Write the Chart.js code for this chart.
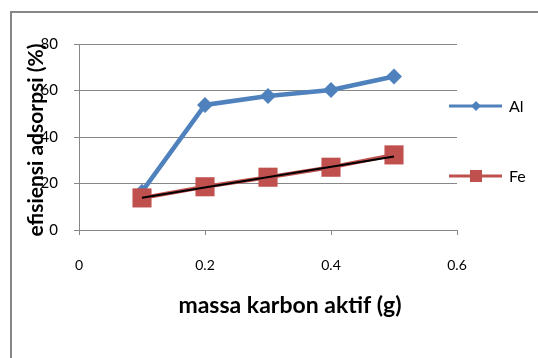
<!DOCTYPE html>
<html>
<head>
<meta charset="utf-8">
<script src="https://cdn.jsdelivr.net/npm/chart.js@4"></script>
<style>
  html, body { margin: 0; padding: 0; background: #fff; }
  #wrap { width: 538px; height: 358px; position: relative; }
</style>
</head>
<body>
<div id="wrap"><canvas id="myChart" width="538" height="358"></canvas></div>
<script>
// data
const massa = [0.1, 0.2, 0.3, 0.4, 0.5]
const alValues = [16.5, 53.8, 57.6, 60.2, 66.0]
const feValues = [13.8, 18.6, 22.7, 27.0, 32.3]
// black trend line through the Fe points (ends)
const trendX = [0.1, 0.5]
const trendY = [13.9, 31.6]
const xTicks = [0, 0.2, 0.4, 0.6]
const yTicks = [0, 20, 40, 60, 80]
const seriesNames = ["Al", "Fe"]
const xTitle = "massa karbon aktif (g)"
const yTitle = "efisiensi adsorpsi (%)"

const blue = "#4F81BD"
const red = "#C0504D"
const gray = "#878787"
const font = "Lato, 'Open Sans', sans-serif"

const toPoints = (xs, ys) => xs.map((x, i) => ({ x: x, y: ys[i] }))

// outer chart frame (only top and left are in the picture)
const framePlugin = {
    id: "frame",
    beforeDraw(chart) {
        const c = chart.ctx
        c.save()
        c.fillStyle = "#fff"
        c.fillRect(0, 0, chart.width, chart.height)
        c.strokeStyle = gray
        c.lineWidth = 2
        c.strokeRect(11, 12, chart.width + 20, chart.height + 20)
        c.restore()
    }
}

// axis titles, placed like the excel ones (y title sits over the tick labels)
const titlesPlugin = {
    id: "axisTitles",
    afterDraw(chart) {
        const c = chart.ctx
        c.save()
        c.fillStyle = "#000"
        c.textAlign = "center"
        c.textBaseline = "middle"

        c.font = "bold 23px " + font
        c.fillText(xTitle, 290, 306)

        c.translate(36, 140)
        c.rotate(-Math.PI / 2)
        c.font = "bold 21px " + font
        c.fillText(yTitle, 0, 0)
        c.restore()
    }
}

// legend with line + marker, drawn on the right
const legendPlugin = {
    id: "sideLegend",
    afterDraw(chart) {
        const c = chart.ctx
        const rows = [
            { name: seriesNames[0], color: blue, y: 106, shape: "diamond" },
            { name: seriesNames[1], color: red, y: 176, shape: "square" }
        ]
        c.save()
        rows.forEach(r => {
            c.strokeStyle = r.color
            c.fillStyle = r.color
            c.lineWidth = 3
            c.beginPath()
            c.moveTo(449, r.y)
            c.lineTo(502, r.y)
            c.stroke()
            c.beginPath()
            if (r.shape === "diamond") {
                c.moveTo(476, r.y - 5)
                c.lineTo(481, r.y)
                c.lineTo(476, r.y + 5)
                c.lineTo(471, r.y)
                c.closePath()
            } else {
                c.rect(470, r.y - 6, 12, 12)
            }
            c.fill()
            c.fillStyle = "#000"
            c.font = "16px " + font
            c.textAlign = "left"
            c.textBaseline = "middle"
            c.fillText(r.name, 509, r.y + 1)
        })
        c.restore()
    }
}

const ctx = document.getElementById("myChart")

new Chart(ctx, {
    type: "line",
    data: {
        datasets: [
            {
                label: "trend",
                data: toPoints(trendX, trendY),
                borderColor: "#000",
                borderWidth: 2,
                pointRadius: 0,
                order: 0
            },
            {
                label: seriesNames[1],
                data: toPoints(massa, feValues),
                borderColor: red,
                backgroundColor: red,
                borderWidth: 4,
                pointStyle: "rect",
                pointRadius: 13.5,
                pointBorderWidth: 0,
                order: 1
            },
            {
                label: seriesNames[0],
                data: toPoints(massa, alValues),
                borderColor: blue,
                backgroundColor: blue,
                borderWidth: 4.5,
                pointStyle: "rectRot",
                pointRadius: 8,
                pointBorderWidth: 0,
                order: 2
            }
        ]
    },
    options: {
        responsive: false,
        animation: false,
        events: [],
        layout: {
            padding: { left: 0, right: 81, top: 44, bottom: 0 }
        },
        plugins: {
            legend: { display: false },
            tooltip: { enabled: false }
        },
        scales: {
            x: {
                type: "linear",
                min: 0,
                max: 0.6,
                afterBuildTicks: s => { s.ticks = xTicks.map(v => ({ value: v })) },
                afterFit: s => { s.height = 128 },
                grid: {
                    drawOnChartArea: false,
                    drawTicks: true,
                    tickLength: 5,
                    color: gray
                },
                border: { display: true, color: gray, width: 1 },
                ticks: {
                    padding: 22,
                    color: "#000",
                    font: { family: font, size: 14 },
                    callback: v => String(v)
                }
            },
            y: {
                min: 0,
                max: 80,
                afterBuildTicks: s => { s.ticks = yTicks.map(v => ({ value: v })) },
                afterFit: s => { s.width = 79 },
                grid: {
                    color: gray,
                    tickLength: 5
                },
                border: { display: true, color: gray, width: 1 },
                ticks: {
                    padding: 16,
                    color: "#000",
                    font: { family: font, size: 15 }
                }
            }
        }
    },
    plugins: [framePlugin, titlesPlugin, legendPlugin]
})
</script>
</body>
</html>
